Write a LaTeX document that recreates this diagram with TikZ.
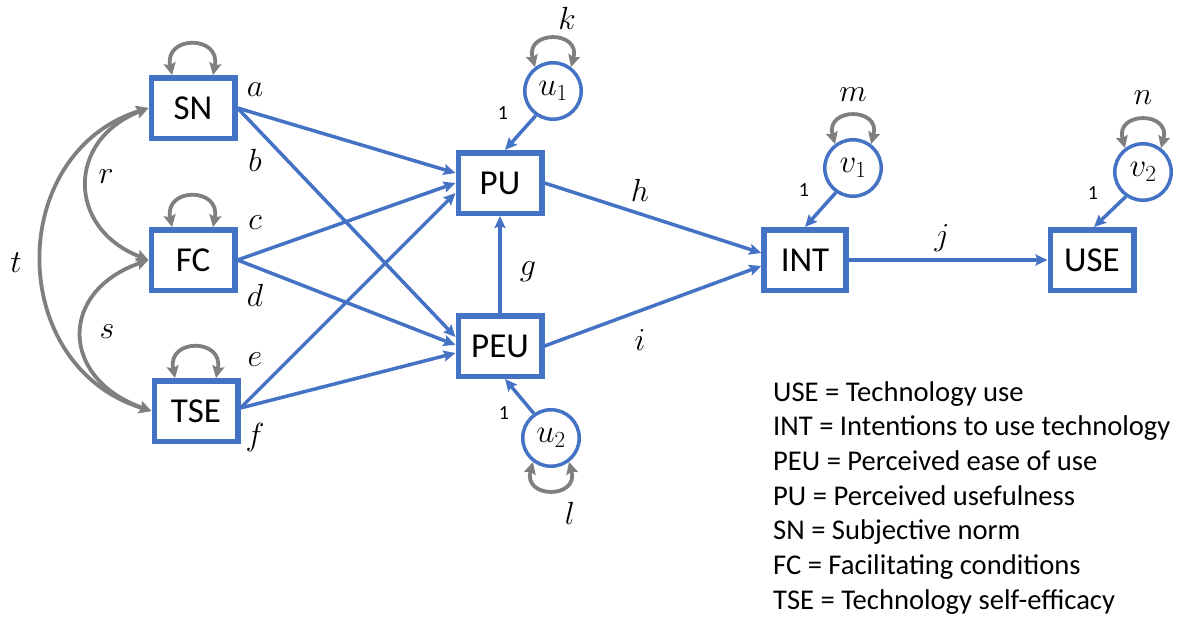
\RequirePackage{fix-cm}
\documentclass[tikz,border=0pt]{standalone}
\usepackage{fontspec}
\setmainfont{Carlito}
\usetikzlibrary{arrows.meta}
\definecolor{pathblue}{HTML}{4472C4}
\definecolor{loopgray}{HTML}{7F7F7F}

\begin{document}
\begin{tikzpicture}[x=1pt,y=-1pt,
  var/.style={draw=pathblue, line width=5.5pt, fill=white,
    minimum width=83.5pt, minimum height=60.5pt, inner sep=0pt,
    font=\fontsize{35}{40}\selectfont},
  err/.style={circle, draw=pathblue, line width=3.5pt, fill=white,
    minimum size=56.5pt, inner sep=0pt, font=\fontsize{33}{38}\selectfont},
  reg/.style={draw=pathblue, line width=3.5pt,
    -{Stealth[length=12pt,width=11pt,inset=2pt]}},
  cov/.style={draw=loopgray, line width=3.8pt,
    {Stealth[length=12pt,width=12pt,inset=2pt]}-{Stealth[length=12pt,width=12pt,inset=2pt]}},
  coef/.style={font=\fontsize{32}{36}\selectfont, inner sep=0pt},
  one/.style={font=\fontsize{20}{24}\selectfont, inner sep=0pt},
  legend/.style={anchor=base west, font=\fontsize{28.6}{34}\selectfont, inner sep=0pt}]

\useasboundingbox (0,0) rectangle (1180,616);

% observed variables
\node[var] (SN)  at (193,108) {SN};
\node[var] (FC)  at (193,260) {FC};
\node[var] (TSE) at (196,411) {TSE};
\node[var] (PU)  at (500,183) {PU};
\node[var] (PEU) at (500,346) {PEU};
\node[var, minimum width=82pt] (INT) at (805,260) {INT};
\node[var] (USE) at (1092,260) {USE};

% disturbances
\node[err] (u1) at (553,91)  {$u_1$};
\node[err] (u2) at (551,438) {$u_2$};
\node[err] (v1) at (853,168) {$v_1$};
\node[err] (v2) at (1143,172) {$v_2$};

% regression paths
\draw[reg] (SN.east) -- ([yshift=10pt]PU.west);
\draw[reg] (SN.east) -- ([yshift=9pt]PEU.west);
\draw[reg] (FC.east) -- (PU.west);
\draw[reg] (FC.east) -- ([yshift=1pt]PEU.west);
\draw[reg] ([yshift=3pt]TSE.east) -- ([yshift=-10pt]PU.west);
\draw[reg] ([yshift=3pt]TSE.east) -- ([yshift=-7pt]PEU.west);
\draw[reg] (PEU.north) -- (PU.south);
\draw[reg] (PU.east) -- ([yshift=7pt]INT.west);
\draw[reg] (PEU.east) -- ([yshift=-6pt]INT.west);
\draw[reg] (INT.east) -- (USE.west);
\draw[reg] (u1.235) -- ([xshift=5pt]PU.north);
\draw[reg] (u2.125) -- ([xshift=5pt]PEU.south);
\draw[reg] (v1.235) -- (INT.north);
\draw[reg] (v2.235) -- ([xshift=2pt]USE.north);

% covariances among the exogenous variables
\draw[cov] (SN.west) .. controls +(-82,32) and +(-82,-32) .. (FC.west);
\draw[cov] (FC.west) .. controls +(-91,32) and +(-91,-32) .. (TSE.west);
\draw[cov] (SN.west) .. controls +(-143,45) and +(-146,-45) .. (TSE.west);

% variances
\foreach \v in {SN,FC,TSE}
  \draw[cov] ([xshift=-21pt]\v.north) .. controls +(-8,-40) and +(8,-40) .. ([xshift=20pt]\v.north);
\foreach \v in {u1,v1,v2}
  \draw[cov] (\v.127) .. controls +(-10,-37) and +(10,-37) .. (\v.53);
\draw[cov] (u2.233) .. controls +(-10,37) and +(10,37) .. (u2.307);

% path labels
\node[coef] (la) at (255,90)  {$a$};
\node[coef] (lb) at (255,160) {$b$};
\node[coef] (lc) at (255,223) {$c$};
\node[coef] (ld) at (255,295) {$d$};
\node[coef] (le) at (255,360) {$e$};
\node[coef] (lf) at (255,437) {$f$};
\node[coef] (lg) at (528,272) {$g$};
\node[coef] (lh) at (640,190) {$h$};
\node[coef] (li) at (640,340) {$i$};
\node[coef] (lj) at (942,238) {$j$};
\node[coef] (lk) at (567,18)  {$k$};
\node[coef] (ll) at (570,513) {$l$};
\node[coef] (lm) at (853,95)  {$m$};
\node[coef] (ln) at (1143,98) {$n$};
\node[coef] (lr) at (106,177) {$r$};
\node[coef] (ls) at (107,332) {$s$};
\node[coef] (lt) at (16,263)  {$t$};

% fixed loadings
\node[one] (o1) at (503,113)  {1};
\node[one] (o2) at (504,413)  {1};
\node[one] (o3) at (804,190)  {1};
\node[one] (o4) at (1093,193) {1};

% key
\node[legend] (k1) at (773,401)   {USE = Technology use};
\node[legend] (k2) at (773,435.7) {INT = Intentions to use technology};
\node[legend] (k3) at (773,470.4) {PEU = Perceived ease of use};
\node[legend] (k4) at (773,505.1) {PU = Perceived usefulness};
\node[legend] (k5) at (773,539.8) {SN = Subjective norm};
\node[legend] (k6) at (773,574.5) {FC = Facilitating conditions};
\node[legend] (k7) at (773,609.2) {TSE = Technology self-efficacy};
\end{tikzpicture}
\end{document}
